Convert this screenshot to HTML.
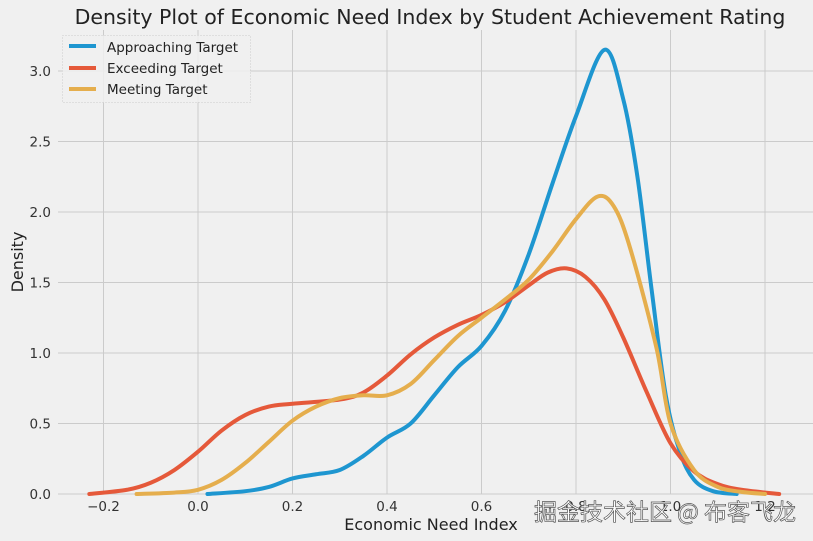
<!DOCTYPE html>
<html><head><meta charset="utf-8"><style>
body{margin:0;background:#f0f0f0;}
svg{display:block;font-family:"DejaVu Sans","Liberation Sans",sans-serif;}
</style></head><body>
<svg id="s" width="813" height="541" viewBox="0 0 813 541">
<rect width="813" height="541" fill="#f0f0f0"/>
<g id="grid" stroke="#cbcbcb" stroke-width="1"></g>
<g id="curves" fill="none" stroke-width="4" stroke-linejoin="round" stroke-linecap="round"></g>
<text x="430" y="24" font-size="20.5" text-anchor="middle" fill="#222">Density Plot of Economic Need Index by Student Achievement Rating</text>
<text x="431" y="530" font-size="16" text-anchor="middle" fill="#222">Economic Need Index</text>
<text transform="translate(23,262) rotate(-90)" font-size="16" text-anchor="middle" fill="#222">Density</text>
<g id="ticks" font-size="13.5" fill="#333"></g>
<rect x="62.5" y="35.5" width="188" height="67" fill="#f0f0f0" fill-opacity="0.85" stroke="#ccc" stroke-dasharray="1,2"/>
<line x1="69" y1="46" x2="96" y2="46" stroke="#1e96d0" stroke-width="4"/>
<line x1="69" y1="68" x2="96" y2="68" stroke="#e5593a" stroke-width="4"/>
<line x1="69" y1="89" x2="96" y2="89" stroke="#e5ae4d" stroke-width="4"/>
<text x="107" y="52" font-size="13.5" fill="#222">Approaching Target</text>
<text x="107" y="73" font-size="13.5" fill="#222">Exceeding Target</text>
<text x="107" y="94" font-size="13.5" fill="#222">Meeting Target</text>
<text x="796" y="520" font-size="23" text-anchor="end" fill="#fff" stroke="#555" stroke-width="0.7" font-family="'Noto Sans CJK SC',sans-serif">掘金技术社区 @ 布客飞龙</text>
</svg>
<script>
var X=v=>198+472.5*v, Y=d=>494-141*d, NS="http://www.w3.org/2000/svg";
var g=document.getElementById('grid'),t=document.getElementById('ticks');
function el(p,tag,a,txt){var e=document.createElementNS(NS,tag);for(var k in a)e.setAttribute(k,a[k]);if(txt)e.textContent=txt;p.appendChild(e);}
[-0.2,0,0.2,0.4,0.6,0.8,1.0,1.2].forEach(v=>{el(g,'line',{x1:X(v),x2:X(v),y1:30,y2:494});el(t,'text',{x:X(v),y:511,'text-anchor':'middle'},v.toFixed(1).replace('-','−'));});
[0,0.5,1,1.5,2,2.5,3].forEach(d=>{el(g,'line',{x1:58,x2:813,y1:Y(d),y2:Y(d)});el(t,'text',{x:51,y:Y(d)+5,'text-anchor':'end'},d.toFixed(1));});
function path(pts){var p=pts.map(a=>[X(a[0]),Y(a[1])]),s="M"+p[0];for(var i=0;i<p.length-1;i++){var p0=p[i-1]||p[i],p1=p[i],p2=p[i+1],p3=p[i+2]||p2;s+="C"+(p1[0]+(p2[0]-p0[0])/6)+","+(p1[1]+(p2[1]-p0[1])/6)+" "+(p2[0]-(p3[0]-p1[0])/6)+","+(p2[1]-(p3[1]-p1[1])/6)+" "+p2;}return s;}
var c=document.getElementById('curves');
var A=[[0.02,0],[0.1,0.02],[0.15,0.05],[0.2,0.11],[0.25,0.14],[0.3,0.17],[0.35,0.27],[0.4,0.4],[0.45,0.5],[0.5,0.7],[0.55,0.9],[0.6,1.05],[0.65,1.3],[0.7,1.7],[0.75,2.2],[0.8,2.68],[0.86,3.15],[0.9,2.8],[0.93,2.25],[0.96,1.45],[0.99,0.7],[1.02,0.3],[1.05,0.1],[1.09,0.02],[1.14,0]];
var E=[[-0.23,0],[-0.15,0.03],[-0.1,0.08],[-0.05,0.17],[0,0.3],[0.05,0.45],[0.1,0.56],[0.15,0.62],[0.2,0.64],[0.3,0.67],[0.35,0.72],[0.4,0.84],[0.45,0.99],[0.5,1.11],[0.55,1.2],[0.6,1.27],[0.65,1.36],[0.7,1.48],[0.74,1.57],[0.78,1.6],[0.82,1.54],[0.86,1.38],[0.9,1.11],[0.95,0.72],[1.0,0.36],[1.05,0.16],[1.1,0.07],[1.15,0.03],[1.23,0]];
var M=[[-0.13,0],[-0.05,0.01],[0.0,0.03],[0.05,0.1],[0.1,0.22],[0.15,0.37],[0.2,0.52],[0.25,0.62],[0.3,0.68],[0.35,0.7],[0.4,0.7],[0.45,0.78],[0.5,0.95],[0.55,1.12],[0.6,1.25],[0.65,1.38],[0.7,1.52],[0.75,1.72],[0.8,1.95],[0.846,2.11],[0.88,2.04],[0.914,1.75],[0.97,1.04],[1.0,0.5],[1.05,0.17],[1.1,0.05],[1.15,0.015],[1.2,0]];
[[A,'#1e96d0'],[E,'#e5593a'],[M,'#e5ae4d']].forEach(a=>el(c,'path',{d:path(a[0]),stroke:a[1]}));
</script>
</body></html>
